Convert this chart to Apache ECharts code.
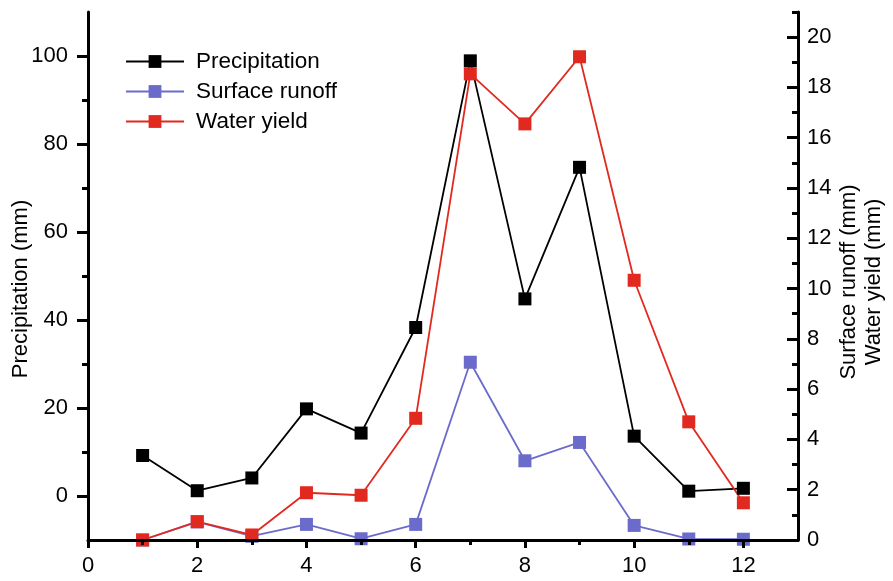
<!DOCTYPE html>
<html>
<head>
<meta charset="utf-8">
<script src="https://cdn.jsdelivr.net/npm/echarts@6/dist/echarts.min.js"></script>
<style>
  html, body { margin: 0; padding: 0; background: #fff; }
  #chart { width: 893px; height: 581px; }
</style>
</head>
<body>
<div id="chart"></div>
<script>
// months 1..12
const months = [1, 2, 3, 4, 5, 6, 7, 8, 9, 10, 11, 12]
const precipitation = [9.2, 1.2, 4.1, 19.8, 14.3, 38.3, 98.9, 44.8, 74.7, 13.6, 1.1, 1.75]
const surfaceRunoff = [0, 0.72, 0.15, 0.62, 0.05, 0.62, 7.07, 3.15, 3.88, 0.58, 0.04, 0.03]
const waterYield = [0, 0.73, 0.2, 1.88, 1.78, 4.84, 18.54, 16.55, 19.22, 10.33, 4.7, 1.48]

const xMajor = [0, 2, 4, 6, 8, 10, 12]
const xMinor = [1, 3, 5, 7, 9, 11]
const leftMajor = [0, 20, 40, 60, 80, 100]
const leftMinor = [10, 30, 50, 70, 90]
const rightMajor = [0, 2, 4, 6, 8, 10, 12, 14, 16, 18, 20]
const rightMinor = [1, 3, 5, 7, 9, 11, 13, 15, 17, 19, 21]

const FONT = '"Liberation Sans", Arial, sans-serif'

const toPairs = vals => months.map((m, i) => [m, vals[i]])

const chart = echarts.init(document.getElementById('chart'))

const lineStyleAxis = { color: '#000', width: 3 }

function lineSeries(name, color, data, yIndex) {
    return {
        name: name,
        type: 'line',
        xAxisIndex: 0,
        yAxisIndex: yIndex,
        symbol: 'rect',
        symbolSize: 13,
        showSymbol: true,
        clip: false,
        lineStyle: { color: color, width: 1.8 },
        itemStyle: { color: color },
        emphasis: { disabled: true },
        data: toPairs(data)
    }
}

chart.setOption({
    backgroundColor: '#fff',
    animation: false,
    textStyle: { fontFamily: FONT, color: '#000' },
    grid: { left: 88, right: 95, top: 12, bottom: 41, containLabel: false, outerBoundsMode: 'none' },
    legend: {
        orient: 'vertical',
        left: 125,
        top: 50,
        padding: 0,
        itemWidth: 58,
        itemHeight: 16,
        itemGap: 7,
        textStyle: { fontSize: 22.5, color: '#000', fontFamily: FONT, padding: [0, 0, 0, 7] },
        data: ['Precipitation', 'Surface runoff', 'Water yield']
    },
    xAxis: [{
        type: 'value',
        position: 'bottom',
        min: 0,
        max: 13,
        z: 5,
        axisLine: { onZero: false, lineStyle: lineStyleAxis },
        axisTick: { customValues: xMajor, length: 8, lineStyle: { color: '#000', width: 3 } },
        axisLabel: { customValues: xMajor, fontSize: 22, color: '#000', margin: 15 },
        splitLine: { show: false }
    }, {
        type: 'value',
        position: 'bottom',
        min: 0,
        max: 13,
        z: 5,
        axisLine: { show: false, onZero: false },
        axisTick: { customValues: xMinor, length: 5, lineStyle: { color: '#000', width: 3 } },
        axisLabel: { show: false },
        splitLine: { show: false }
    }],
    yAxis: [{
        type: 'value',
        position: 'left',
        min: -10,
        max: 110,
        z: 5,
        name: 'Precipitation (mm)',
        nameLocation: 'middle',
        nameRotate: 90,
        nameGap: 56,
        nameMoveOverlap: false,
        nameTextStyle: { fontSize: 22, color: '#000', padding: [0, 26, 0, 0] },
        axisLine: { onZero: false, lineStyle: lineStyleAxis },
        axisTick: { customValues: leftMajor, length: 11, lineStyle: { color: '#000', width: 3 } },
        axisLabel: { customValues: leftMajor, fontSize: 22, color: '#000', margin: 20 },
        splitLine: { show: false }
    }, {
        type: 'value',
        position: 'left',
        min: -10,
        max: 110,
        z: 5,
        axisLine: { show: false, onZero: false },
        axisTick: { customValues: leftMinor, length: 6, lineStyle: { color: '#000', width: 3 } },
        axisLabel: { show: false },
        splitLine: { show: false }
    }, {
        type: 'value',
        position: 'right',
        min: 0,
        max: 21,
        z: 5,
        name: 'Surface runoff (mm)\nWater yield (mm)',
        nameLocation: 'middle',
        nameRotate: 90,
        nameGap: 38,
        nameMoveOverlap: false,
        nameTextStyle: { fontSize: 22, color: '#000', lineHeight: 25, padding: [0, 12, 0, 0] },
        axisLine: { onZero: false, lineStyle: lineStyleAxis },
        axisTick: { customValues: rightMajor, inside: true, length: 11, lineStyle: { color: '#000', width: 3 } },
        axisLabel: { customValues: rightMajor, fontSize: 22, color: '#000', margin: 9 },
        splitLine: { show: false }
    }, {
        type: 'value',
        position: 'right',
        min: 0,
        max: 21,
        z: 5,
        axisLine: { show: false, onZero: false },
        axisTick: { customValues: rightMinor, inside: true, length: 6, lineStyle: { color: '#000', width: 3 } },
        axisLabel: { show: false },
        splitLine: { show: false }
    }],
    series: [
        lineSeries('Precipitation', '#000000', precipitation, 0),
        lineSeries('Surface runoff', '#6b6bcc', surfaceRunoff, 2),
        lineSeries('Water yield', '#e2291f', waterYield, 2)
    ]
})
</script>
</body>
</html>
